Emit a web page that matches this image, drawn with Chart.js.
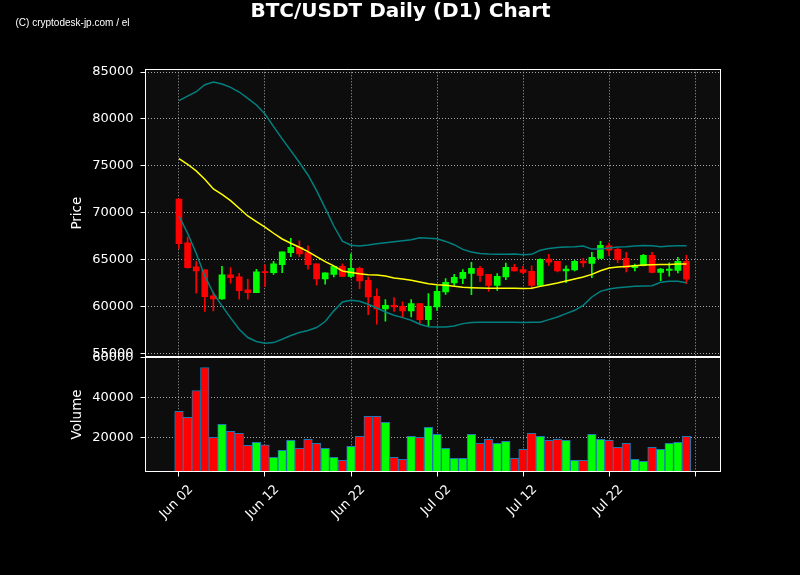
<!DOCTYPE html>
<html>
<head>
<meta charset="utf-8">
<title>BTC/USDT Daily (D1) Chart</title>
<script src="https://cdn.jsdelivr.net/npm/chart.js@4.4.1/dist/chart.umd.min.js"></script>
<style>
    html, body { margin: 0; padding: 0; background: #000; }
    #wrap { width: 800px; height: 575px; }
</style>
</head>
<body>
<div id="wrap"><canvas id="btcChart" width="800" height="575"></canvas></div>
<script>
// Daily candles, Jun 02 - Jul 31 (MM-DD)
const dates = [
    '06-02', '06-03', '06-04', '06-05', '06-06', '06-07', '06-08', '06-09', '06-10', '06-11',
    '06-12', '06-13', '06-14', '06-15', '06-16', '06-17', '06-18', '06-19', '06-20', '06-21',
    '06-22', '06-23', '06-24', '06-25', '06-26', '06-27', '06-28', '06-29', '06-30', '07-01',
    '07-02', '07-03', '07-04', '07-05', '07-06', '07-07', '07-08', '07-09', '07-10', '07-11',
    '07-12', '07-13', '07-14', '07-15', '07-16', '07-17', '07-18', '07-19', '07-20', '07-21',
    '07-22', '07-23', '07-24', '07-25', '07-26', '07-27', '07-28', '07-29', '07-30', '07-31'
];

const opens = [
    71470, 66790, 64230, 63910, 61140, 60820, 63380, 63170, 61780, 61500,
    63700, 63630, 64480, 65760, 66330, 65760, 64550, 62950, 63440, 64290,
    63230, 64080, 62800, 61100, 59750, 60140, 60040, 59540, 60320, 58620,
    59970, 61560, 62520, 63020, 63550, 64080, 63440, 62270, 63160, 64190,
    63940, 63760, 62270, 65070, 64820, 63800, 63900, 64860, 64610, 65140,
    66490, 66100, 65140, 64150, 64360, 65460, 63650, 63870, 63870, 64820
];
const highs = [
    71500, 67400, 64800, 63950, 61540, 64300, 64160, 63560, 62920, 63980,
    64450, 64840, 65850, 67290, 67000, 66470, 64560, 63600, 64300, 64570,
    65640, 64220, 63160, 61910, 60750, 60960, 60500, 60750, 60330, 61380,
    62230, 62980, 63440, 63940, 64720, 64290, 63450, 63510, 64650, 64500,
    64290, 64360, 65100, 65570, 64830, 64360, 64930, 65140, 65780, 66950,
    66770, 66240, 65780, 64540, 65570, 65780, 64080, 64680, 65250, 65460
];
const lows = [
    66190, 64100, 61430, 59500, 59550, 60780, 62490, 60790, 60790, 61480,
    62130, 63420, 63630, 65330, 65330, 63980, 62280, 62390, 63160, 63230,
    63100, 61910, 59150, 58120, 58440, 59500, 58900, 58900, 58190, 57900,
    59610, 61310, 62270, 62450, 61280, 62700, 61630, 61740, 62880, 63790,
    63510, 61880, 62200, 64390, 63690, 62550, 63800, 64220, 63090, 65130,
    65460, 64680, 63690, 63800, 64350, 63600, 62770, 63260, 63580, 62450
];
const closes = [
    66720, 64160, 63810, 61070, 60820, 63380, 63100, 61710, 61500, 63700,
    63620, 64560, 65830, 66330, 65620, 64480, 62950, 63590, 64290, 63230,
    64080, 62730, 61030, 59750, 60140, 59970, 59540, 60320, 58620, 60040,
    61630, 62590, 63120, 63650, 64080, 63330, 62270, 63230, 64190, 63800,
    63650, 62270, 65040, 64750, 63800, 64010, 64820, 64650, 65250, 66530,
    66030, 65000, 64150, 64400, 65460, 63650, 64010, 64010, 64820, 62940
];
const volumes = [
    33000, 30000, 43500, 55000, 20000, 26500, 23000, 22000, 16000, 17500,
    16300, 10000, 13500, 18500, 14500, 19000, 17000, 14500, 10000, 8500,
    15500, 20500, 30500, 30500, 27500, 10000, 9000, 20500, 20000, 25000,
    21500, 14500, 9500, 9500, 21500, 17000, 19000, 17000, 18000, 9500,
    14000, 22000, 20500, 18500, 19000, 18500, 8500, 8500, 21500, 19000,
    18500, 15000, 17000, 9000, 8000, 15000, 14000, 17000, 17500, 20500
];
// Moving average and bands as drawn on the chart
const sma = [
    75770, 75170, 74460, 73570, 72540, 71970, 71300, 70480, 69660, 69060,
    68460, 67820, 67210, 66750, 66330, 65870, 65330, 64800, 64340, 63800,
    63650, 63510, 63400, 63370, 63260, 63050, 62940, 62800, 62620, 62450,
    62340, 62270, 62160, 62060, 62020, 61990, 61950, 61950, 61950, 61950,
    61920, 61950, 62160, 62340, 62520, 62730, 62940, 63160, 63440, 63830,
    64110, 64220, 64290, 64360, 64430, 64470, 64500, 64500, 64540, 64540
];
const upperBand = [
    81950, 82440, 82900, 83650, 83930, 83720, 83370, 82870, 82200, 81490,
    80530, 79180, 77880, 76620, 75360, 74030, 72370, 70500, 68590, 66970,
    66540, 66450, 66560, 66700, 66810, 66910, 67020, 67130, 67340, 67300,
    67230, 66950, 66600, 66100, 65820, 65670, 65600, 65570, 65570, 65600,
    65530, 65570, 66000, 66200, 66310, 66350, 66380, 66450, 66130, 66130,
    66240, 66350, 66380, 66450, 66525, 66490, 66380, 66450, 66490, 66490
];
const lowerBand = [
    69660, 67820, 65690, 63270, 61430, 60080, 58800, 57590, 56710, 56280,
    56100, 56170, 56530, 56920, 57240, 57450, 57770, 58410, 59550, 60500,
    60670, 60570, 60250, 59860, 59430, 59080, 58830, 58550, 58120, 57870,
    57840, 57840, 57940, 58190, 58300, 58330, 58330, 58330, 58330, 58330,
    58300, 58330, 58330, 58620, 58900, 59260, 59610, 60140, 61030, 61630,
    61880, 62020, 62090, 62160, 62200, 62230, 62590, 62700, 62700, 62550
];

// Axis ticks
const xTickDays = [2, 12, 22, 32, 42, 52, 62];
const xTickLabels = ['Jun 02', 'Jun 12', 'Jun 22', 'Jul 02', 'Jul 12', 'Jul 22', ''];
const priceTicks = [55000, 60000, 65000, 70000, 75000, 80000, 85000];
const volumeTicks = [20000, 40000, 60000];

const upColor = '#00ff00';
const downColor = '#ff0000';
const gridColor = '#a8a8a8';
const tickFont = { family: 'DejaVu Sans', size: 13 };

// day number counted from Jun 01 = 1
function dayNumber(md) {
    const [m, d] = md.split('-').map(Number);
    return m === 6 ? d : 30 + d;
}

const xs = dates.map(dayNumber);
const candleColors = opens.map((o, i) => closes[i] >= o ? upColor : downColor);

// Background, panel frames, figure title and watermark
const framePlugin = {
    id: 'frames',
    beforeDraw(chart) {
        const { ctx, chartArea: a } = chart;
        ctx.save();
        ctx.fillStyle = '#000';
        ctx.fillRect(0, 0, chart.width, chart.height);
        ctx.fillStyle = '#0d0d0d';
        ctx.fillRect(a.left, a.top, a.right - a.left, a.bottom - a.top);
        ctx.restore();
    },
    afterDraw(chart) {
        const { ctx, chartArea: a, scales } = chart;
        ctx.save();
        ctx.strokeStyle = '#ffffff';
        ctx.lineWidth = 1;
        [scales.price, scales.vol].forEach(s => {
            ctx.strokeRect(Math.round(a.left) + 0.5, Math.round(s.top) + 0.5,
                Math.round(a.right - a.left), Math.round(s.bottom - s.top) - 1);
        });
        ctx.fillStyle = '#ffffff';
        ctx.textBaseline = 'alphabetic';
        ctx.textAlign = 'center';
        ctx.font = 'bold 20px "DejaVu Sans"';
        ctx.fillText('BTC/USDT Daily (D1) Chart', 400.5, 17);
        ctx.textAlign = 'left';
        ctx.font = '10.5px "Liberation Sans Narrow", "Liberation Sans", sans-serif';
        ctx.fillText('(C) cryptodesk-jp.com / el', 15.5, 25.5, 114);
        ctx.restore();
    }
};

function yAxis(weight, min, max, ticks, title) {
    return {
        type: 'linear',
        position: 'left',
        stack: 'panes',
        stackWeight: weight,
        min: min,
        max: max,
        afterBuildTicks: s => { s.ticks = ticks.map(v => ({ value: v })); },
        afterFit: s => { s.width = 145; },
        grid: {
            color: gridColor,
            lineWidth: 1,
            tickColor: '#ffffff',
            tickLength: 4.5,
            tickBorderDash: []
        },
        border: { display: false, dash: [1, 2] },
        ticks: {
            color: '#ffffff',
            font: tickFont,
            padding: 7,
            callback: v => String(v)
        },
        title: {
            display: true,
            text: title,
            color: '#ffffff',
            font: { family: 'DejaVu Sans', size: 13.5 },
            padding: { top: 69, bottom: 0 }
        }
    };
}

const ctx = document.getElementById('btcChart').getContext('2d');
new Chart(ctx, {
    type: 'bar',
    data: {
        datasets: [
            {
                type: 'line',
                label: 'SMA',
                data: xs.map((x, i) => ({ x: x, y: sma[i] })),
                yAxisID: 'price',
                borderColor: '#ffff00',
                borderWidth: 1.5,
                pointRadius: 0,
                order: 0
            },
            {
                type: 'line',
                label: 'Upper',
                data: xs.map((x, i) => ({ x: x, y: upperBand[i] })),
                yAxisID: 'price',
                borderColor: '#008080',
                borderWidth: 1.5,
                pointRadius: 0,
                order: 0
            },
            {
                type: 'line',
                label: 'Lower',
                data: xs.map((x, i) => ({ x: x, y: lowerBand[i] })),
                yAxisID: 'price',
                borderColor: '#008080',
                borderWidth: 1.5,
                pointRadius: 0,
                order: 0
            },
            {
                label: 'Body',
                data: xs.map((x, i) => ({ x: x, y: [opens[i], closes[i]] })),
                yAxisID: 'price',
                backgroundColor: candleColors,
                barThickness: 6,
                minBarLength: 1,
                grouped: false,
                order: 1
            },
            {
                label: 'Wick',
                data: xs.map((x, i) => ({ x: x, y: [lows[i], highs[i]] })),
                yAxisID: 'price',
                backgroundColor: candleColors,
                barThickness: 1,
                grouped: false,
                order: 2
            },
            {
                label: 'Volume',
                data: xs.map((x, i) => ({ x: x, y: volumes[i] })),
                yAxisID: 'vol',
                backgroundColor: candleColors,
                borderColor: '#1f77b4',
                borderWidth: 1,
                barThickness: 8.6,
                grouped: false,
                order: 3
            }
        ]
    },
    options: {
        responsive: false,
        animation: false,
        events: [],
        layout: { padding: { left: 0, right: 80, top: 69.3, bottom: 0 } },
        plugins: {
            legend: { display: false },
            tooltip: { enabled: false },
            title: { display: false }
        },
        scales: {
            x: {
                type: 'linear',
                min: -1.95,
                max: 64.9,
                offset: false,
                afterBuildTicks: s => { s.ticks = xTickDays.map(v => ({ value: v })); },
                afterFit: s => { s.height = 103; },
                grid: {
                    color: gridColor,
                    lineWidth: 1,
                    offset: false,
                    tickColor: '#ffffff',
                    tickLength: 4.5,
                    tickBorderDash: []
                },
                border: { display: false, dash: [1, 2] },
                ticks: {
                    color: '#ffffff',
                    font: tickFont,
                    minRotation: 45,
                    maxRotation: 45,
                    autoSkip: false,
                    labelOffset: 12,
                    padding: 5.5,
                    callback: v => xTickLabels[xTickDays.indexOf(v)]
                }
            },
            // later stacked axis is placed on top
            vol: yAxis(1, 2670, 60300, volumeTicks, 'Volume'),
            price: yAxis(2.5, 54640, 85290, priceTicks, 'Price')
        }
    },
    plugins: [framePlugin]
});
</script>
</body>
</html>
